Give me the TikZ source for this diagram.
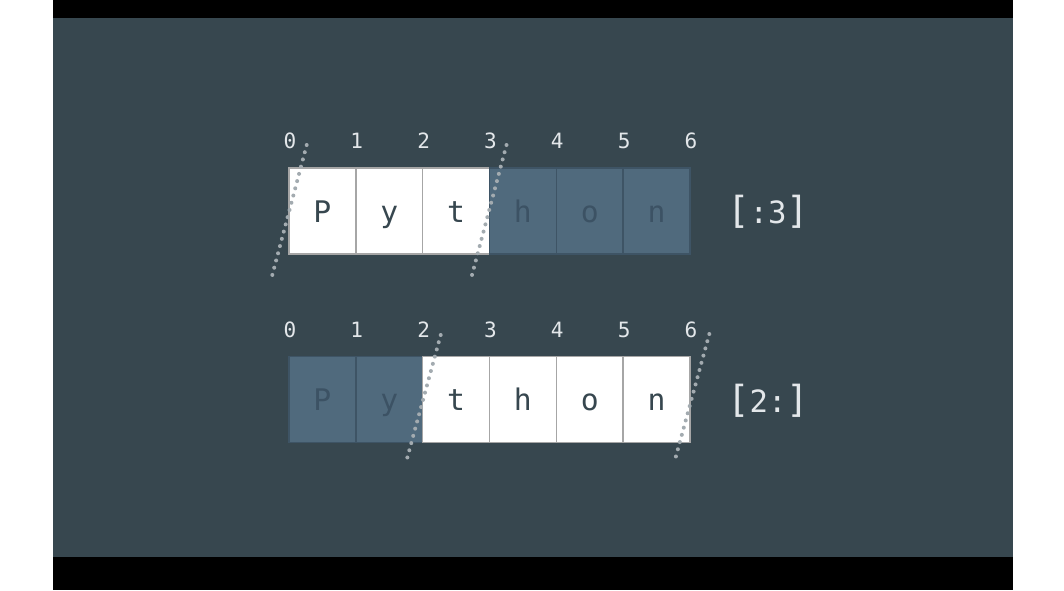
\documentclass[tikz,border=0pt]{standalone}
\usepackage{fontspec}
\newfontfamily\monof{DejaVu Sans Mono}
\definecolor{bgc}{HTML}{37474F}
\definecolor{dimc}{HTML}{506A7D}
\definecolor{dimtxt}{HTML}{3C5264}
\definecolor{dimline}{HTML}{3E5465}
\definecolor{lite}{HTML}{E3E7EA}
\definecolor{dotc}{HTML}{A3ABB0}
\newcommand{\bigbr}[1]{{\fontsize{28}{30}\selectfont #1}}
\tikzset{
  cellbase/.style={minimum width=50.1pt, minimum height=64.6pt, inner sep=0pt,
    text height=16.5pt, text depth=0pt, font=\monof\fontsize{22.3}{24}\selectfont},
  oncell/.style={cellbase, fill=white, draw=gray!70, line width=1.1pt, text=bgc},
  offcell/.style={cellbase, fill=dimc, draw=dimline, line width=1.1pt, text=dimtxt},
  idx/.style={anchor=base, text=lite, inner sep=0pt, font=\monof\fontsize{15.8}{17}\selectfont},
  slicelbl/.style={anchor=base, text=lite, inner sep=0pt, font=\monof\fontsize{23}{30}\selectfont},
  cut/.style={draw=dotc, line width=3pt, line cap=round, dash pattern=on 0pt off 5.6pt}
}
\begin{document}
\begin{tikzpicture}[x=0.75pt, y=-0.75pt]
\useasboundingbox (0,0) rectangle (1064,590);
\fill[white] (0,0) rectangle (1064,590);
\fill[black] (53,0) rectangle (1013,590);
\fill[bgc] (53,18) rectangle (1013,557);
% row 1: [:3]
\foreach \ch/\st [count=\i from 0] in {P/oncell,y/oncell,t/oncell,h/offcell,o/offcell,n/offcell}{
  \node[\st] (a\i) at ({322.4+66.83*\i},211) {\ch};
}
% row 2: [2:]
\foreach \ch/\st [count=\i from 0] in {P/offcell,y/offcell,t/oncell,h/oncell,o/oncell,n/oncell}{
  \node[\st] (b\i) at ({322.4+66.83*\i},399.5) {\ch};
}
% indices
\foreach \i in {0,...,6}{
  \node[idx] (ia\i) at ({290+66.83*\i},148) {\i};
  \node[idx] (ib\i) at ({290+66.83*\i},337.5) {\i};
}
\node[slicelbl] (la) at (768,223) {\bigbr{[}:3\bigbr{]}};
\node[slicelbl] (lb) at (768,412.5) {\bigbr{[}2:\bigbr{]}};
% cut lines
\coordinate (a0t) at (306.7,145); \coordinate (a0b) at (272.3,275);
\coordinate (a3t) at (506.5,145); \coordinate (a3b) at (472,275);
\coordinate (b2t) at (440.7,335); \coordinate (b2b) at (405.7,463.5);
\coordinate (b6t) at (709.3,334); \coordinate (b6b) at (674,463.5);
\draw[cut] (a0t) -- (a0b);
\draw[cut] (a3t) -- (a3b);
\draw[cut] (b2t) -- (b2b);
\draw[cut] (b6t) -- (b6b);
\end{tikzpicture}
\end{document}
